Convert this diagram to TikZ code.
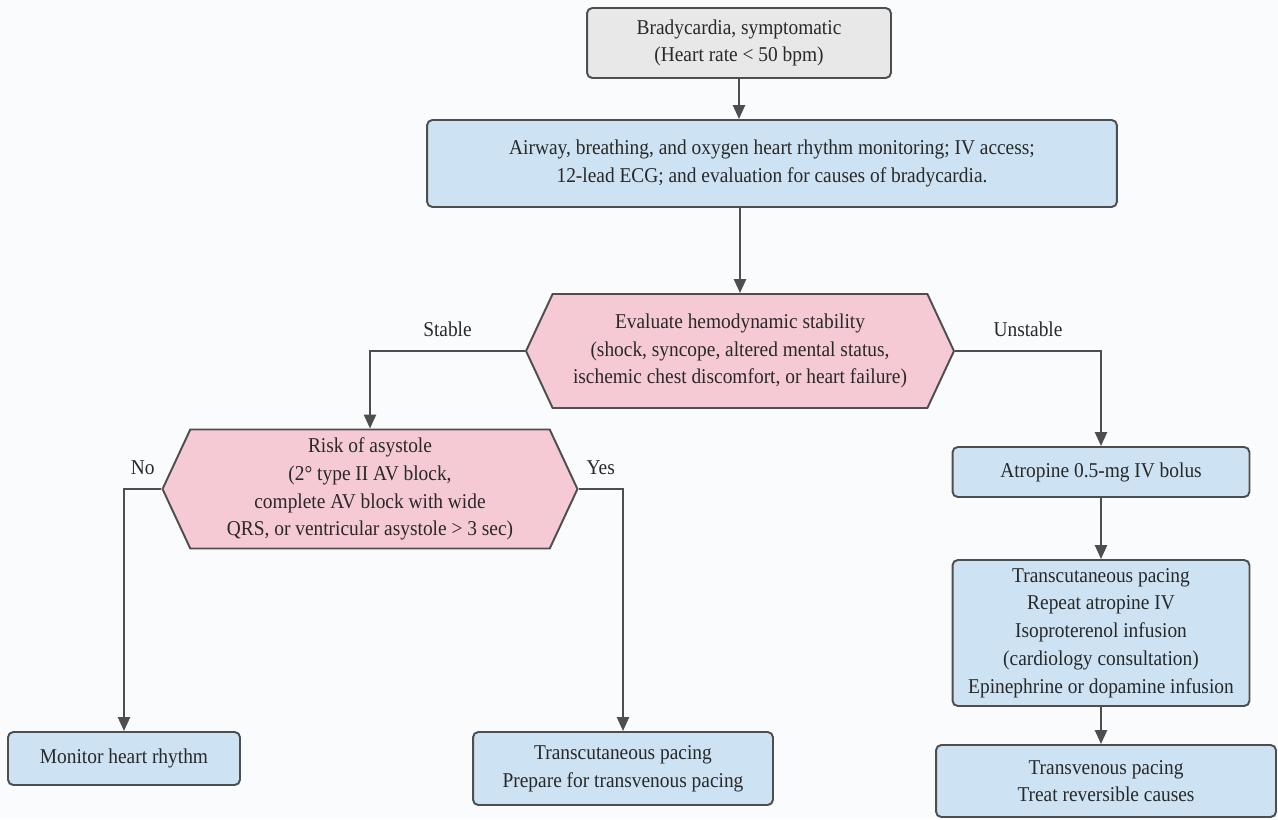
\documentclass[tikz,border=0pt]{standalone}
\usepackage{fontspec}
\setmainfont{Liberation Serif}[FakeStretch=0.92]
\usetikzlibrary{arrows.meta,shapes.symbols}

\definecolor{boxgray}{RGB}{232,232,233}
\definecolor{boxblue}{RGB}{205,227,243}
\definecolor{boxpink}{RGB}{246,202,212}
\definecolor{linegray}{RGB}{78,78,78}
\definecolor{textgray}{RGB}{40,40,40}
\definecolor{pagebg}{RGB}{250,251,253}

\begin{document}
\begin{tikzpicture}[
    x=0.02cm, y=-0.02cm,
    % Box and line styles
    base/.style={draw=linegray, line width=1.1pt, align=center, text=textgray,
        font=\fontsize{12}{15.8}\selectfont, inner sep=2pt},
    graybox/.style={base, fill=boxgray, rounded corners=3pt},
    bluebox/.style={base, fill=boxblue, rounded corners=3pt},
    hexbox/.style={base, fill=boxpink, shape=signal, signal to=west and east,
        signal pointer angle=130},
    arrow/.style={draw=linegray, line width=1.4pt,
        -{Triangle[length=0.28cm, width=0.24cm]}},
    lbl/.style={text=textgray, font=\fontsize{12}{14}\selectfont}
]

% 1. Page background
\fill[pagebg] (0,0) rectangle (1278,819);
\useasboundingbox (0,0) rectangle (1278,819);

% 2. Top of the chart
\node[graybox, minimum width=6.08cm, minimum height=1.4cm] (brady) at (739,43)
    {Bradycardia, symptomatic\\(Heart rate < 50 bpm)};
\node[bluebox, minimum width=13.8cm, minimum height=1.74cm] (airway) at (772,163.5)
    {Airway, breathing, and oxygen heart rhythm monitoring; IV access;\\
     12-lead ECG; and evaluation for causes of bradycardia.};

% 3. Decision shapes
\node[hexbox, minimum width=8.56cm, minimum height=2.28cm] (stability) at (740,351)
    {Evaluate hemodynamic stability\\(shock, syncope, altered mental status,\\
     ischemic chest discomfort, or heart failure)};
\node[hexbox, minimum width=8.3cm, minimum height=2.38cm] (asystole) at (370,489)
    {Risk of asystole\\(2° type II AV block,\\complete AV block with wide\\
     QRS, or ventricular asystole > 3 sec)};

% 4. Stable side
\node[bluebox, minimum width=4.64cm, minimum height=1.06cm] (monitor) at (124,758.5)
    {Monitor heart rhythm};
\node[bluebox, minimum width=6.0cm, minimum height=1.46cm] (tcpace) at (623,768.5)
    {Transcutaneous pacing\\Prepare for transvenous pacing};

% 5. Unstable side
\node[bluebox, minimum width=5.94cm, minimum height=1.0cm] (atropine) at (1101,472)
    {Atropine 0.5-mg IV bolus};
\node[bluebox, minimum width=5.94cm, minimum height=2.92cm] (drugs) at (1101,633)
    {Transcutaneous pacing\\Repeat atropine IV\\Isoproterenol infusion\\
     (cardiology consultation)\\Epinephrine or dopamine infusion};
\node[bluebox, minimum width=6.8cm, minimum height=1.44cm] (tvpace) at (1106,781)
    {Transvenous pacing\\Treat reversible causes};

% 6. Straight arrows
\draw[arrow] (brady.south) -- (brady.south |- airway.north);
\draw[arrow] (stability.north |- airway.south) -- (stability.north);
\draw[arrow] (atropine.south) -- (drugs.north);
\draw[arrow] (drugs.south) -- (drugs.south |- tvpace.north);

% 7. Branch arrows with labels
\draw[arrow] (stability.west) -| node[lbl, pos=0.25, above=4pt] {Stable} (asystole.north);
\draw[arrow] (stability.east) -| node[lbl, pos=0.25, above=4pt] {Unstable} (atropine.north);
\draw[arrow] (asystole.west) -| node[lbl, pos=0.25, above=4pt] {No} (monitor.north);
\draw[arrow] (asystole.east) -| node[lbl, pos=0.25, above=4pt] {Yes} (tcpace.north);

\end{tikzpicture}
\end{document}
